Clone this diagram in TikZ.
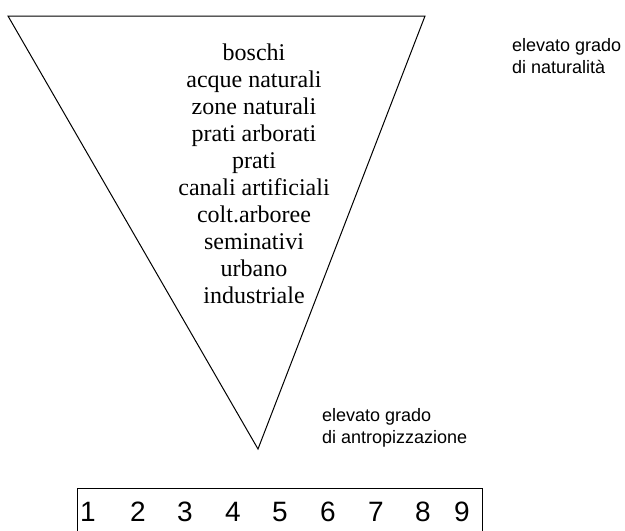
\documentclass[tikz,border=0pt]{standalone}
\usepackage{fontspec}
\setmainfont{Liberation Serif}
\newfontfamily\labelfont{Liberation Sans}
\begin{document}
\begin{tikzpicture}[x=1pt,y=-1pt,
  edge/.style={draw=black,line width=1pt},
  item/.style={anchor=base,inner sep=0pt,font=\fontsize{24}{27}\selectfont},
  note/.style={anchor=base west,inner sep=0pt,font=\labelfont\fontsize{18}{21}\selectfont},
  digit/.style={anchor=base,inner sep=0pt,font=\labelfont\fontsize{28}{30}\selectfont}]
  \useasboundingbox (0,0) rectangle (625,531);
  % inverted triangle
  \coordinate (tl) at (8,16);
  \coordinate (tr) at (425,16);
  \coordinate (apex) at (258,449);
  \draw[edge,line join=miter] (tl) -- (tr) -- (apex) -- cycle;
  % land-use classes
  \foreach \t [count=\i from 0] in {boschi,acque naturali,zone naturali,prati arborati,prati,canali artificiali,colt.arboree,seminativi,urbano,industriale}
    \node[item] (c\i) at (254,60+27*\i) {\t};
  % side notes
  \node[note] (nat1) at (512,51) {elevato grado};
  \node[note] (nat2) at (512,73) {di naturalità};
  \node[note] (ant1) at (322,421) {elevato grado};
  \node[note] (ant2) at (322,443) {di antropizzazione};
  % scale box (runs past the lower edge)
  \begin{scope}
    \clip (0,0) rectangle (625,531);
    \draw[edge] (77,540) -- (77,488) -- (482,488) -- (482,540);
  \end{scope}
  \foreach \d/\x in {1/88,2/138,3/185,4/233,5/280,6/328,7/376,8/423,9/462}
    \node[digit] (d\d) at (\x,521) {\d};
\end{tikzpicture}
\end{document}
